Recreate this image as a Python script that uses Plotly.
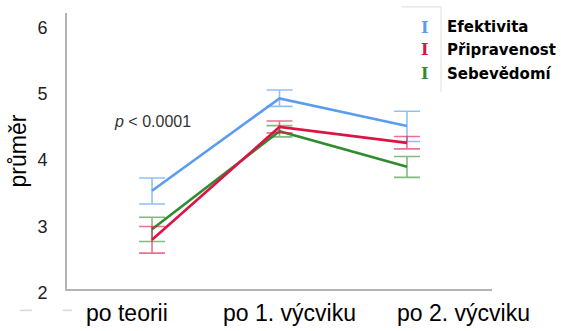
import plotly.graph_objects as go

# Measurement occasions
categories = ["po teorii", "po 1. výcviku", "po 2. výcviku"]

# Series names
series_names = ["Efektivita", "Připravenost", "Sebevědomí"]

# Means per occasion
efektivita_mean = [3.48, 4.87, 4.455]
pripravenost_mean = [2.74, 4.44, 4.20]
sebevedomi_mean = [2.90, 4.375, 3.84]

# Upper / lower error (interval half-widths)
efektivita_err_up = [0.19, 0.125, 0.22]
efektivita_err_down = [0.20, 0.12, 0.235]
pripravenost_err_up = [0.20, 0.09, 0.095]
pripravenost_err_down = [0.20, 0.09, 0.09]
sebevedomi_err_up = [0.18, 0.085, 0.155]
sebevedomi_err_down = [0.185, 0.085, 0.16]

y_ticks = [2, 3, 4, 5, 6]
p_label = "<i>p</i> < 0.0001"

colors = {
    "Efektivita": ("#5b9cf0", "rgba(91,156,240,0.65)"),
    "Připravenost": ("#dc1446", "rgba(220,20,70,0.6)"),
    "Sebevědomí": ("#2f8c2f", "rgba(47,140,47,0.6)"),
}

series = {
    "Efektivita": (efektivita_mean, efektivita_err_up, efektivita_err_down),
    "Připravenost": (pripravenost_mean, pripravenost_err_up, pripravenost_err_down),
    "Sebevědomí": (sebevedomi_mean, sebevedomi_err_up, sebevedomi_err_down),
}

fig = go.Figure()
for name in ["Efektivita", "Sebevědomí", "Připravenost"]:
    mean, up, down = series[name]
    line_c, err_c = colors[name]
    fig.add_trace(go.Scatter(
        x=categories, y=mean, name=name, mode="lines",
        line=dict(color=line_c, width=2.6),
        error_y=dict(type="data", symmetric=False, array=up, arrayminus=down,
                     color=err_c, thickness=1.6, width=13),
        showlegend=False,
    ))

annotations = []

# significance note above the first occasion
annotations.append(dict(
    x=categories[0], y=4.52, xref="x", yref="y", text=p_label, showarrow=False,
    font=dict(family="Liberation Sans, Arial", size=16, color="#333333"),
    xanchor="center", yanchor="middle",
))

# category labels under the axis
label_offsets = [-0.2, 0.08, 0.44]
for i, (cat, off) in enumerate(zip(categories, label_offsets)):
    annotations.append(dict(
        x=i + off, y=-0.086, xref="x", yref="paper", text=cat, showarrow=False,
        font=dict(family="Liberation Sans, Arial", size=23, color="#000000"),
        xanchor="center", yanchor="middle",
    ))

# legend: error-bar glyph + series name
legend_rows = [0.949, 0.866, 0.779]
for name, ly in zip(series_names, legend_rows):
    annotations.append(dict(
        x=0.842, y=ly, xref="paper", yref="paper", text="<b>I</b>", showarrow=False,
        font=dict(family="DejaVu Serif", size=16, color=colors[name][0]),
        xanchor="center", yanchor="middle",
    ))
    annotations.append(dict(
        x=0.889, y=ly, xref="paper", yref="paper", text=f"<b>{name}</b>",
        showarrow=False,
        font=dict(family="DejaVu Sans", size=15, color="#000000"),
        xanchor="left", yanchor="middle",
    ))

shapes = [
    # faint legend frame remnants
    dict(type="line", xref="paper", yref="paper", x0=0.88, x1=0.88, y0=0.714, y1=1.022,
         line=dict(color="#e4e4e4", width=1.2)),
    dict(type="line", xref="paper", yref="paper", x0=0.788, x1=0.88, y0=1.022, y1=1.022,
         line=dict(color="#e4e4e4", width=1.2)),
    # faint dashes left of the category labels
    dict(type="line", xref="paper", yref="paper", x0=-0.1106, x1=-0.0824, y0=-0.0775, y1=-0.0775,
         line=dict(color="#d6d6d6", width=1.5)),
    dict(type="line", xref="paper", yref="paper", x0=-0.0094, x1=0.0118, y0=-0.0775, y1=-0.0775,
         line=dict(color="#d6d6d6", width=1.5)),
]

fig.update_layout(
    width=561, height=331,
    margin=dict(l=67, r=69, t=13, b=42),
    paper_bgcolor="white", plot_bgcolor="white",
    annotations=annotations, shapes=shapes,
    xaxis=dict(
        type="category", range=[-0.667, 2.667], showticklabels=False,
        showgrid=False, zeroline=False, showline=True,
        linecolor="#b4b4b4", linewidth=1.8, ticks="",
    ),
    yaxis=dict(
        range=[2, 6.155], tickvals=y_ticks, showgrid=False, zeroline=False,
        showline=True, linecolor="#b4b4b4", linewidth=1.8, ticks="",
        tickfont=dict(family="Liberation Sans, Arial", size=18, color="#222222"),
        ticklabelstandoff=14, ticklabelshift=4,
        title=dict(text="průměr", standoff=4,
                   font=dict(family="Liberation Sans, Arial", size=23, color="#000000")),
    ),
)

fig.write_html("out.html")
